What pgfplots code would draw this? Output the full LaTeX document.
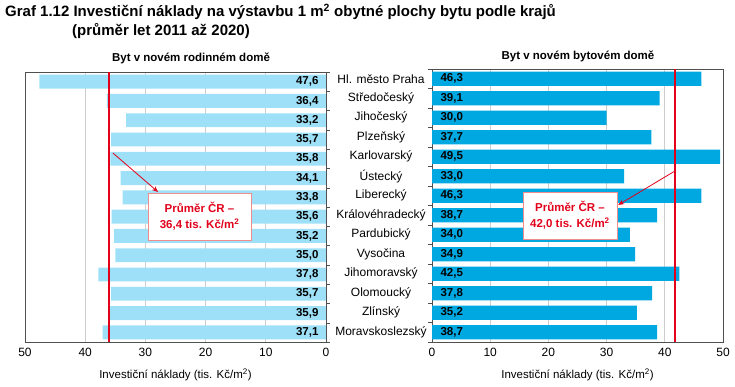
\documentclass[border=0pt]{standalone}
\usepackage{pgfplots}
\pgfplotsset{compat=1.18}
\usepackage{pgfplotstable}
\usetikzlibrary{arrows.meta}
\usepackage{fontspec}
\setmainfont{Liberation Sans}
\definecolor{lightb}{RGB}{158,224,247}
\definecolor{darkb}{RGB}{0,168,226}
\definecolor{mred}{RGB}{226,0,26}
\definecolor{boxred}{RGB}{240,140,140}
\definecolor{gridg}{RGB}{205,205,205}
\definecolor{axg}{RGB}{80,80,80}

\pgfplotstableread{
y rod byt
0 47.6 46.3
1 36.4 39.1
2 33.2 30.0
3 35.7 37.7
4 35.8 49.5
5 34.1 33.0
6 33.8 46.3
7 35.6 38.7
8 35.2 34.0
9 35.0 34.9
10 37.8 42.5
11 35.7 37.8
12 35.9 35.2
13 37.1 38.7
}\data

\pgfplotsset{
  common/.style={
    scale only axis,
    xmin=0, xmax=50,
    ymin=-0.5, ymax=13.5,
    y dir=reverse,
    xtick={0,10,...,50},
    ytick={0,...,13},
    minor ytick={-0.5,0.5,...,13.5},
    major tick length=0pt,
    minor tick length=4pt,
    tick align=outside,
    xtick style={draw=none},
    minor tick style={draw=axg},
    xmajorgrids,
    major grid style={draw=gridg, line width=0.8pt},
    axis line style={draw=axg, line width=0.8pt},
    tick label style={font=\fontsize{12}{14}\selectfont},
    xticklabel style={yshift=-3pt},
    /pgf/number format/assume math mode=true,
    xlabel={\fontsize{11.5}{13}\selectfont Investiční náklady (tis. Kč/m\textsuperscript{2})},
    xlabel style={yshift=-5pt},
  },
  lab/.style={
    draw=none, mark=none, only marks,
    point meta=\thisrow{#1},
    nodes near coords={\pgfmathprintnumber[fixed,fixed zerofill,precision=1,use comma]{\pgfplotspointmeta}},
  },
}

\begin{document}
\begin{tikzpicture}
\path[use as bounding box] (0pt,0pt) rectangle (735pt,387pt);
\node[anchor=base west, font=\bfseries\fontsize{15}{17}\selectfont, inner sep=0pt] at (5pt,370pt)
  {Graf 1.12 Investiční náklady na výstavbu 1 m\textsuperscript{2} obytné plochy bytu podle krajů};
\node[anchor=base west, font=\bfseries\fontsize{15}{17}\selectfont, inner sep=0pt] at (72pt,351pt)
  {(průměr let 2011 až 2020)};
\node[font=\bfseries\fontsize{11.5}{13}\selectfont] at (191pt,329pt) {Byt v novém rodinném domě};
\node[font=\bfseries\fontsize{11.5}{13}\selectfont] at (578pt,331pt) {Byt v novém bytovém domě};

\begin{axis}[common,
  at={(25pt,45pt)}, anchor=south west,
  width=301pt, height=270pt,
  x dir=reverse,
  ytick pos=right,
  yticklabels={},
]
\addplot[xbar, bar width=0.72, bar shift=0pt, fill=lightb, draw=none] table[x=rod, y=y] {\data};
\addplot[lab=rod, nodes near coords style={anchor=east, xshift=-4pt, font=\bfseries\fontsize{11.5}{13}\selectfont}] table[x expr=0, y=y] {\data};
\addplot[mred, line width=2pt, no markers] coordinates {(36.0,-0.5) (36.0,13.5)};
\draw[mred, line width=0.8pt, -{Stealth[length=6pt,width=5pt]}] (axis cs:35.4,3.7) -- (axis cs:27.9,5.72);
\node[draw=boxred, fill=white, line width=0.8pt, text=mred, font=\bfseries\fontsize{11.5}{13}\selectfont, align=center, minimum width=103pt, minimum height=47pt, inner sep=1pt]
  at (axis cs:21.0,6.99) {Průměr ČR –\\[3pt]36,4 tis. Kč/m\textsuperscript{2}};
\end{axis}

\begin{axis}[common,
  at={(432pt,45pt)}, anchor=south west,
  width=291pt, height=273pt,
  ytick pos=left,
  yticklabels={Hl. město Praha, Středočeský, Jihočeský, Plzeňský, Karlovarský, Ústecký, Liberecký, Královéhradecký, Pardubický, Vysočina, Jihomoravský, Olomoucký, Zlínský, Moravskoslezský},
  yticklabel style={anchor=center, xshift=-51pt},
]
\addplot[xbar, bar width=0.72, bar shift=0pt, fill=darkb, draw=none] table[x=byt, y=y] {\data};
\addplot[lab=byt, nodes near coords style={anchor=west, xshift=5pt, font=\bfseries\fontsize{11.5}{13}\selectfont}] table[x expr=0, y=y] {\data};
\addplot[mred, line width=2pt, no markers] coordinates {(41.8,-0.5) (41.8,13.5)};
\draw[mred, line width=0.8pt, -{Stealth[length=6pt,width=5pt]}] (axis cs:41.75,4.73) -- (axis cs:32.0,6.47);
\node[draw=boxred, fill=white, line width=0.8pt, text=mred, font=\bfseries\fontsize{11.5}{13}\selectfont, align=center, minimum width=94pt, minimum height=47pt, inner sep=1pt]
  at (axis cs:23.7,7.01) {Průměr ČR –\\[3pt]42,0 tis. Kč/m\textsuperscript{2}};
\end{axis}
\end{tikzpicture}
\end{document}
